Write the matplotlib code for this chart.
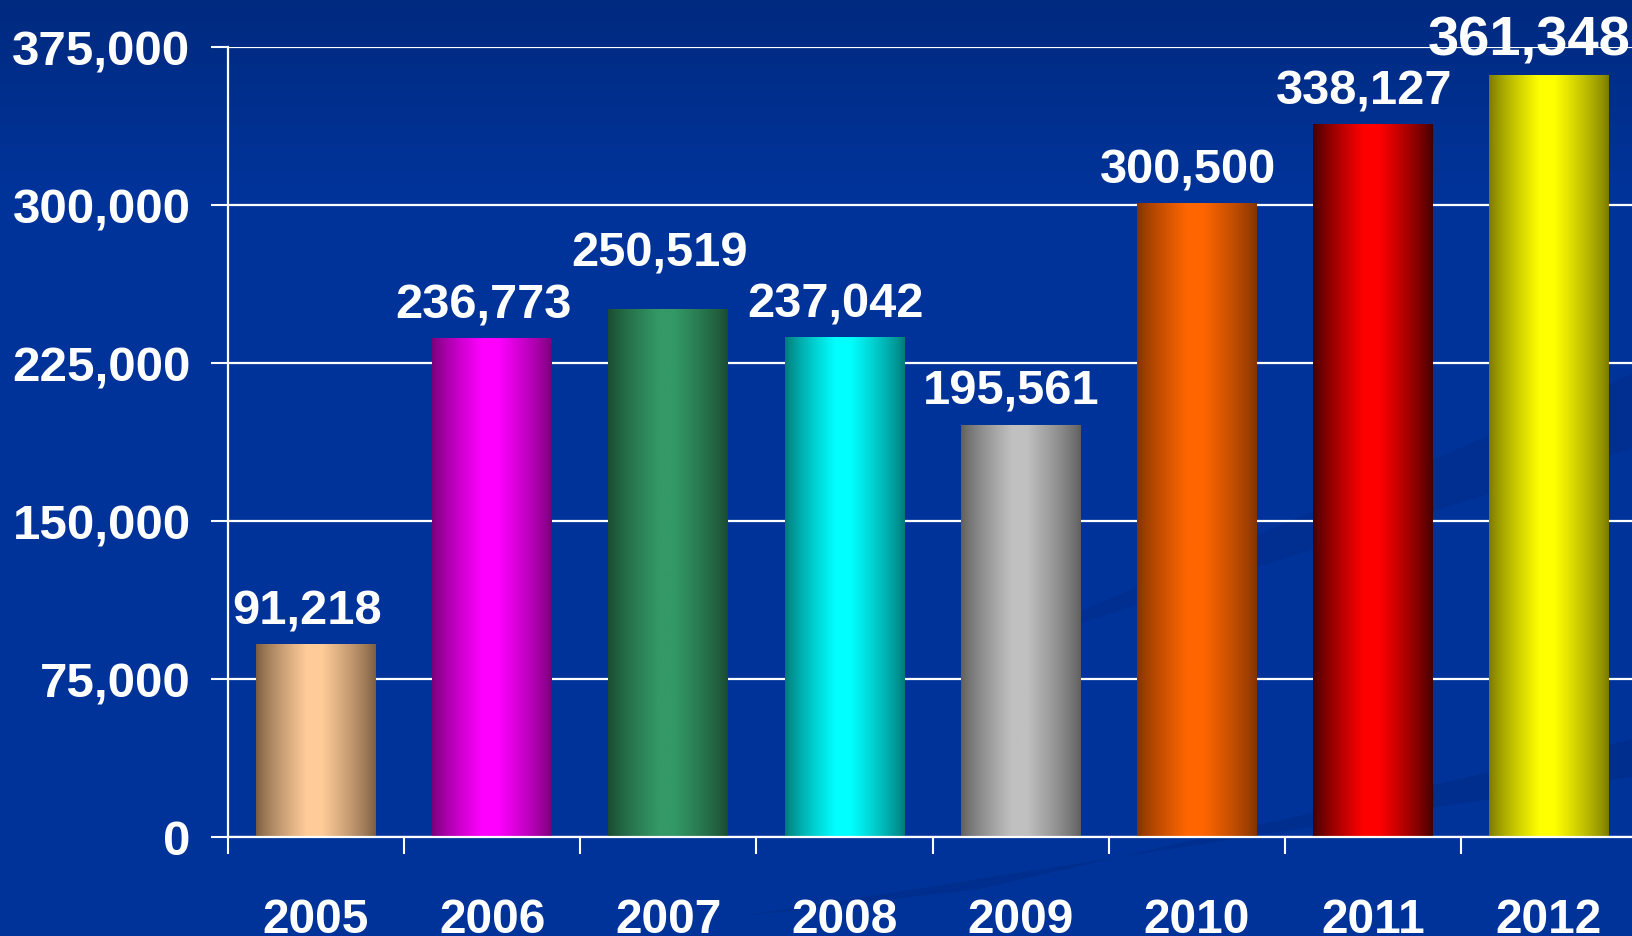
import numpy as np
import matplotlib.pyplot as plt
from matplotlib.colors import to_rgb

years = ['2005', '2006', '2007', '2008', '2009', '2010', '2011', '2012']
values = [91218, 236773, 250519, 237042, 195561, 300500, 338127, 361348]
bright = ['#FFCC99', '#FF00FF', '#339966', '#00FFFF', '#C0C0C0', '#FF6600', '#FF0000', '#FFFF00']
dark = ['#7A5C40', '#780078', '#1A4A30', '#007878', '#5E5E5E', '#803300', '#400000', '#787800']
yticks = [0, 75000, 150000, 225000, 300000, 375000]

plt.rcParams['font.family'] = ['Liberation Sans', 'DejaVu Sans']
plt.rcParams['font.weight'] = 'bold'

fig = plt.figure(figsize=(16.32, 9.37), dpi=100)

# background: dark blue, a bit darker at the top
bg = fig.add_axes([0, 0, 1, 1], zorder=-10)
bg.axis('off')
g = np.linspace(0, 1, 200)[:, None]
top = np.array(to_rgb('#002A80'))
mid = np.array(to_rgb('#003399'))
w = np.clip(g / 0.2, 0, 1)
img = (top * (1 - w) + mid * w)
img = np.repeat(img[:, None, :], 2, axis=1)
bg.imshow(img, aspect='auto', extent=[0, 1, 0, 1])
bg.set_xlim(0, 1)
bg.set_ylim(0, 1)
# faint swooshes in the lower right
bg.fill([0.45, 1.0, 1.0, 0.6], [0.02, 0.17, 0.21, 0.05], color='#002A85', alpha=0.5, lw=0)
bg.fill([0.6, 1.0, 1.0], [0.3, 0.6, 0.52], color='#002A85', alpha=0.4, lw=0)

ax = fig.add_axes([228 / 1632, 99 / 937, 1409 / 1632, 790 / 937])
ax.patch.set_visible(False)

x = np.arange(len(years))
bars = ax.bar(x, values, width=0.68, color='none', edgecolor='none', zorder=3)

# cylinder-like horizontal shading for each bar
t = np.linspace(0, 1, 256)
prof = np.where(t < 0.42, t / 0.42, np.where(t > 0.55, 1 - (t - 0.55) / 0.45, 1.0))
prof = np.clip(prof, 0, 1) ** 0.8
for b, c1, c0 in zip(bars, bright, dark):
    c1 = np.array(to_rgb(c1))
    c0 = np.array(to_rgb(c0))
    grad = c0[None, :] * (1 - prof[:, None]) + c1[None, :] * prof[:, None]
    grad = grad[None, :, :]
    ax.imshow(grad, aspect='auto', zorder=3,
              extent=[b.get_x(), b.get_x() + b.get_width(), 0, b.get_height()])

# label offsets (points); 2007 is lifted to clear its neighbours, 2012 nudged left
dys = [8, 8, 24.5, 8, 8, 8, 8, 7]
for i, (b, v) in enumerate(zip(bars, values)):
    last = i == len(values) - 1
    dx = -20 if last else -9
    ax.annotate(f'{v:,}', (b.get_x() + b.get_width() / 2, v),
                xytext=(dx * 0.72, dys[i]), textcoords='offset points',
                ha='center', va='bottom', color='white',
                fontsize=40.5 if last else 35.2,
                fontweight='bold', zorder=5)

ax.set_xlim(-0.5, 7.5)
ax.set_ylim(0, 375000)
ax.set_yticks(yticks)
ax.set_yticklabels([f'{v:,}' for v in yticks])
ax.set_xticks(np.arange(-0.5, 7.0, 1.0))
ax.set_xticklabels([])
ax.set_xticks(x, minor=True)
ax.set_xticklabels(years, minor=True)

ax.tick_params(axis='y', colors='white', labelsize=35.5, length=12, width=1.5,
               direction='out', pad=15)
ax.tick_params(axis='x', which='major', colors='white', length=12, width=1.5,
               direction='out')
ax.tick_params(axis='x', which='minor', colors='white', labelsize=34.5, length=0, pad=43)
for lab in ax.get_yticklabels() + ax.get_xticklabels(minor=True):
    lab.set_fontweight('bold')

ax.grid(axis='y', color='white', linewidth=1.6, zorder=1)
ax.set_axisbelow(True)
for s in ['top', 'right']:
    ax.spines[s].set_visible(False)
for s in ['left', 'bottom']:
    ax.spines[s].set_color('white')
    ax.spines[s].set_linewidth(1.6)
    ax.spines[s].set_zorder(4)

fig.savefig('out.png', dpi=100, facecolor='#003399')
